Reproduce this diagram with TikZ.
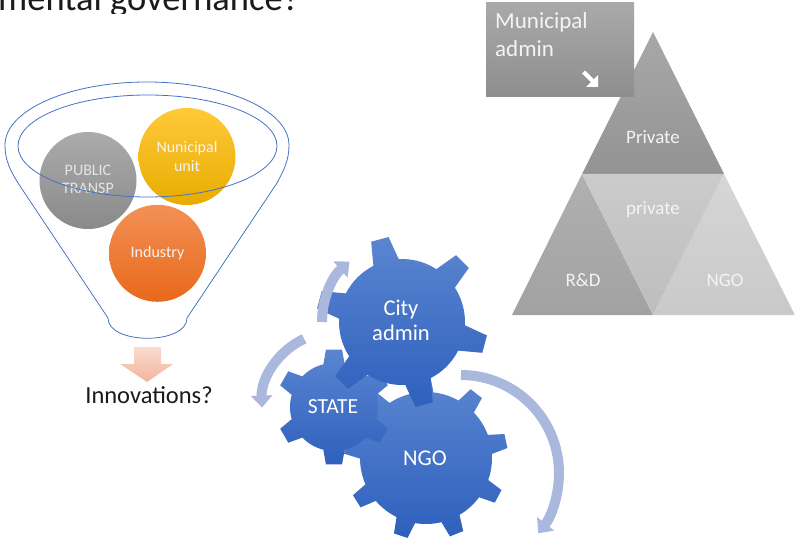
\documentclass[tikz,border=0pt]{standalone}
\usepackage{fontspec}
\setmainfont{Carlito}
\usetikzlibrary{arrows.meta}
\definecolor{titlecol}{HTML}{1A1A1A}
\definecolor{funnelcol}{HTML}{4472C4}
\definecolor{grayTop}{HTML}{ABABAB}
\definecolor{grayBot}{HTML}{8A8A8A}
\definecolor{yelTop}{HTML}{FFC93A}
\definecolor{yelBot}{HTML}{E8AC00}
\definecolor{orTop}{HTML}{F39055}
\definecolor{orBot}{HTML}{E8691B}
\definecolor{pinkTop}{HTML}{FADBCF}
\definecolor{pinkBot}{HTML}{F1B59F}
\definecolor{gearTop}{HTML}{5A85D0}
\definecolor{gearBot}{HTML}{2E60BD}
\definecolor{arccol}{HTML}{AAB8DD}
\definecolor{pyrTopA}{HTML}{A8A8A8}
\definecolor{pyrTopB}{HTML}{939393}
\definecolor{pyrRDA}{HTML}{B0B0B0}
\definecolor{pyrRDB}{HTML}{A2A2A2}
\definecolor{pyrMidA}{HTML}{CBCBCB}
\definecolor{pyrMidB}{HTML}{BDBDBD}
\definecolor{pyrNGOA}{HTML}{D6D6D6}
\definecolor{pyrNGOB}{HTML}{C9C9C9}
\definecolor{boxTop}{HTML}{A9A9A9}
\definecolor{boxBot}{HTML}{8E8E8E}
\definecolor{softwhite}{HTML}{F4F4F4}
\newcommand\mygear[8]{% x, y, n, ri, ro, offset, top half-angle, base half-angle
  \shade[top color=gearTop, bottom color=gearBot, shift={(#1,#2)}]
    ({#6-#8}:#4)
    \foreach \k in {1,...,#3}{
      -- ({#6+(\k-1)*360/#3-#7}:#5) -- ({#6+(\k-1)*360/#3+#7}:#5)
      -- ({#6+(\k-1)*360/#3+#8}:#4)
      arc[start angle={#6+(\k-1)*360/#3+#8}, end angle={#6+\k*360/#3-#8}, radius=#4]
    } -- cycle;
}
\begin{document}
\begin{tikzpicture}[x=1pt,y=-1pt,
  lbl/.style={inner sep=0pt, anchor=base, text=softwhite},
  circlbl/.style={lbl, font=\fontsize{16}{18}\selectfont},
  pyrlbl/.style={lbl, font=\fontsize{19}{22}\selectfont},
  gearlbl/.style={lbl, text=white, font=\fontsize{22.5}{26}\selectfont},
  funnelline/.style={draw=funnelcol, line width=0.8pt},
  arcarrow/.style={draw=arccol, line width=10pt, -{Triangle[width=21pt,length=12pt]}}]
\useasboundingbox[fill=white] (0,0) rectangle (795,545);

% title (cut off at the top)
\begin{scope}
  \clip (0,0) rectangle (420,13.5);
  \node[anchor=base west, inner sep=0pt, text=titlecol, font=\fontsize{36.5}{40}\selectfont] (title) at (-2,11) {mental governance?};
\end{scope}

% funnel contents
\shade[top color=grayTop, bottom color=grayBot] (88,180.5) circle[radius=48.5];
\shade[top color=yelTop, bottom color=yelBot] (187,156.5) circle[radius=48.5];
\shade[top color=orTop, bottom color=orBot] (157.5,253.3) circle[radius=48.5];
\node[circlbl, text=gray!20] (pub1) at (88,176) {PUBLIC};
\node[circlbl, text=gray!20] (pub2) at (88,194) {TRANSP};
\node[circlbl] (nun1) at (187,153) {Nunicipal};
\node[circlbl] (nun2) at (187,172) {unit};
\node[circlbl] (ind) at (157.5,258) {Industry};

% funnel outline
\draw[funnelline] (5,145) arc[start angle=180, end angle=360, x radius=142, y radius=63]
  .. controls (289,160) and (284,170) .. (277,183) -- (187,318)
  .. controls (187,345) and (108,345) .. (108,318) -- (18,183)
  .. controls (10,170) and (5,160) .. (5,145);
\draw[funnelline] (147.5,146) ellipse[x radius=129.5, y radius=51];

% down arrow
\shade[top color=pinkTop, bottom color=pinkBot]
  (134,347) -- (161,347) -- (161,364) -- (173,364) -- (147,382) -- (120,364) -- (134,364) -- cycle;
\node[anchor=base, inner sep=0pt, text=titlecol, font=\fontsize{24.5}{28}\selectfont] (innov) at (149,403) {Innovations?};

% pyramid
\shade[top color=pyrTopA, bottom color=pyrTopB] (653,32) -- (724,174) -- (582,174) -- cycle;
\shade[top color=pyrRDA, bottom color=pyrRDB] (582,174) -- (653,315) -- (512,315) -- cycle;
\shade[top color=pyrMidA, bottom color=pyrMidB] (582,174) -- (724,174) -- (653,315) -- cycle;
\shade[top color=pyrNGOA, bottom color=pyrNGOB] (724,174) -- (795,315) -- (653,315) -- cycle;
\node[pyrlbl] (priv1) at (653,144) {Private};
\node[pyrlbl] (priv2) at (653,215) {private};
\node[pyrlbl] (rd) at (583,287) {R\&D};
\node[pyrlbl] (ngoP) at (725,287) {NGO};

% municipal admin box
\shade[top color=boxTop, bottom color=boxBot] (486,3) rectangle (634,97);
\node[lbl, anchor=base west, font=\fontsize{23}{27}\selectfont] (mun1) at (495,29) {Municipal};
\node[lbl, anchor=base west, font=\fontsize{23}{27}\selectfont] (mun2) at (495,57) {admin};
\fill[white] (582,73.5) -- (585,70.5) -- (593.75,79.25) -- (598,75) -- (598,87) -- (586,87) -- (590.75,82.25) -- cycle;

% gears
\mygear{426}{458}{9}{66}{82}{28}{5}{8.5}
\mygear{334}{407}{6}{44}{58}{-90}{8}{14}
\mygear{402}{322}{6}{63}{86}{15}{6}{12}
\node[gearlbl] (city1) at (401,316) {City};
\node[gearlbl] (city2) at (401,340) {admin};
\node[gearlbl, font=\fontsize{21.5}{25}\selectfont] (state) at (333,413) {STATE};
\node[gearlbl] (ngoG) at (425,465) {NGO};

% circular arrows
\draw[arcarrow] (402,322) ++(180:80) arc[start angle=180, end angle=229, radius=80];
\draw[arcarrow] (335,405) ++(245:73) arc[start angle=245, end angle=178, radius=73];
\draw[arcarrow] (461,473) ++(-90:98) arc[start angle=-90, end angle=38, radius=98];
\end{tikzpicture}
\end{document}
